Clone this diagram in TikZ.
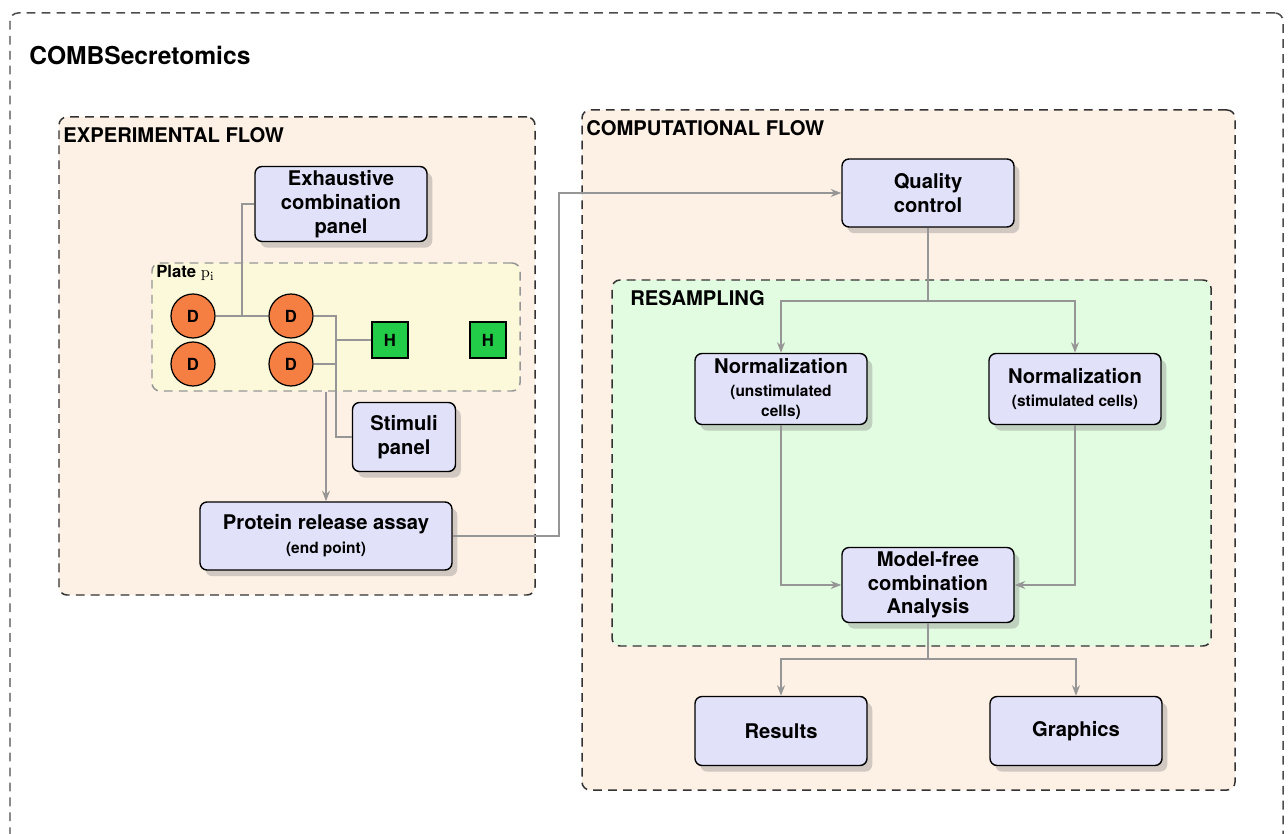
\documentclass[tikz,border=0pt]{standalone}
\usepackage[no-math]{fontspec}
\setmainfont{TeX Gyre Heros}
\usetikzlibrary{arrows.meta,shadows,fit,calc}

\definecolor{peach}{RGB}{253,240,228}
\definecolor{mint}{RGB}{226,252,226}
\definecolor{cream}{RGB}{252,249,218}
\definecolor{lavender}{RGB}{225,225,249}
\definecolor{wellorange}{RGB}{245,127,66}
\definecolor{wellgreen}{RGB}{34,204,72}
\definecolor{linkgray}{RGB}{150,150,150}

\newcommand\smalltext[1]{{\fontsize{8.8}{10.5}\selectfont #1}}

\begin{document}
\begin{tikzpicture}[x=0.02cm,y=-0.02cm,>={Stealth[length=6pt,width=4.5pt]},
  frame/.style={draw=black!80,line width=0.85pt,dash pattern=on 5pt off 3.5pt,
    rounded corners=0.16cm,inner sep=0pt},
  title/.style={anchor=west,inner sep=0pt,font=\bfseries\fontsize{11.5}{13.5}\selectfont},
  box/.style={draw,line width=0.8pt,fill=lavender,rounded corners=0.14cm,align=center,
    inner ysep=2pt,minimum width=3.44cm,minimum height=1.42cm,
    font=\bfseries\fontsize{11.5}{13.5}\selectfont,
    drop shadow={shadow xshift=3pt,shadow yshift=-3.5pt,opacity=.35}},
  well/.style={circle,draw,line width=0.7pt,fill=wellorange,minimum size=0.88cm,
    inner sep=0pt,font=\bfseries\fontsize{9.5}{11}\selectfont},
  hole/.style={draw,line width=0.7pt,fill=wellgreen,minimum size=0.72cm,
    inner sep=0pt,font=\bfseries\fontsize{9.5}{11}\selectfont},
  link/.style={draw=linkgray,line width=1.1pt}]

\useasboundingbox (0,0) rectangle (1288,834);

\node[frame,draw=black!70,fit={(10,13) (1283,850)}] (all) {};
\node[frame,fill=peach,fit={(59,117) (535,595)}] (exp) {};
\node[frame,fill=peach,fit={(582,110) (1235,790)}] (comp) {};
\node[frame,fill=mint,fit={(612,280) (1211,646)}] (resamp) {};
\node[frame,draw=linkgray,fill=cream,fit={(152,263) (520,391)}] (plate) {};

\node[title,font=\bfseries\fontsize{14}{16}\selectfont] (name) at (29,55) {COMBSecretomics};
\node[title] (explab) at (63,135) {EXPERIMENTAL FLOW};
\node[title] (complab) at (586,128) {COMPUTATIONAL FLOW};
\node[title] (reslab) at (630,298) {RESAMPLING};
\node[title,font=\bfseries\fontsize{9.5}{11}\selectfont] (platelab) at (156,273) {Plate $\mathrm{p_i}$};

\node[box,minimum height=1.5cm] (exh) at (341,204) {Exhaustive\\combination\\panel};
\node[box,minimum width=2.06cm,minimum height=1.38cm] (stim) at (404,437) {Stimuli\\panel};
\node[box,minimum width=5.04cm,minimum height=1.36cm] (prot) at (326,536)
  {Protein release assay\\\smalltext{(end point)}};
\node[box,minimum height=1.36cm] (qc) at (928,193) {Quality\\control};
\node[box] (n1) at (781,389) {Normalization\\\smalltext{(unstimulated}\\[-2pt]\smalltext{cells)}};
\node[box] (n2) at (1075,389) {Normalization\\\smalltext{(stimulated cells)}};
\node[box,minimum height=1.5cm] (mfa) at (928,585) {Model-free\\combination\\Analysis};
\node[box,minimum height=1.38cm] (res) at (781,731) {Results};
\node[box,minimum height=1.38cm] (gra) at (1076,731) {Graphics};

\node[well] (d1) at (193,316) {D};
\node[well] (d2) at (291,316) {D};
\node[well] (d3) at (193,364) {D};
\node[well] (d4) at (291,364) {D};
\node[hole] (h1) at (390,340) {H};
\node[hole] (h2) at (488,340) {H};

\draw[link] (d1.east) -- (d2.west);
\draw[link] (exh.west) -| ($(d1.east)!.5!(d2.west)$);
\coordinate (bus) at ($(stim.west)+(-16,0)$);
\draw[link] (d2.east) -| (bus) -- (stim.west);
\draw[link] (d4.east) -- (d4.east -| bus);
\draw[link] (h1.west) -- (h1.west -| bus);
\draw[link,->] (prot.north |- plate.south) -- (prot.north);
\draw[link,->] (prot.east) -- ++(106,0) |- (qc.west);

\draw[link] (qc.south) -- ++(0,73) coordinate (qsplit);
\draw[link,->] (qsplit) -| (n1.north);
\draw[link,->] (qsplit) -| (n2.north);
\draw[link,->] (n1.south) |- (mfa.west);
\draw[link,->] (n2.south) |- (mfa.east);
\draw[link] (mfa.south) -- ++(0,36) coordinate (msplit);
\draw[link,->] (msplit) -| (res.north);
\draw[link,->] (msplit) -| (gra.north);
\end{tikzpicture}
\end{document}
